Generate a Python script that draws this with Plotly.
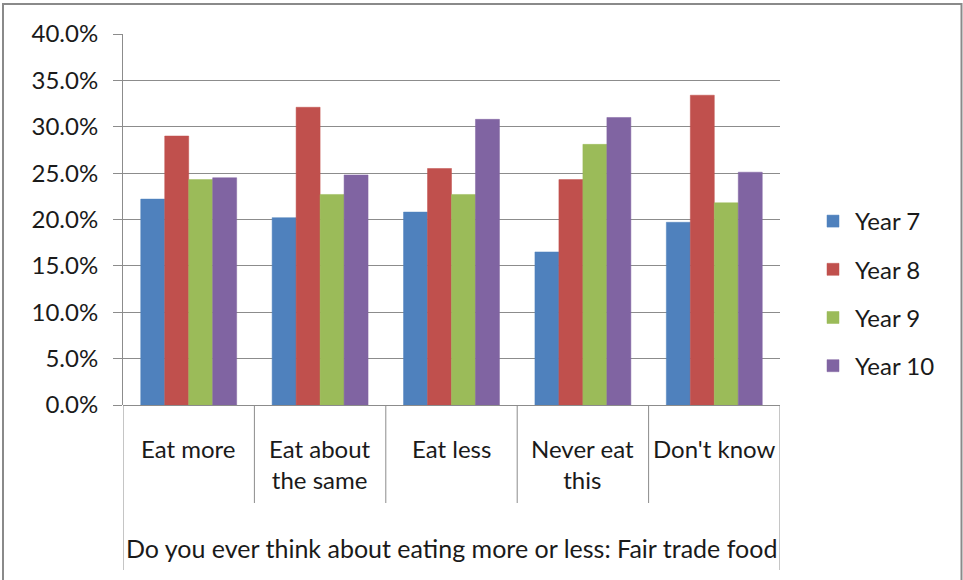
import plotly.graph_objects as go

categories = ["Eat more", "Eat about<br>the same", "Eat less", "Never eat<br>this", "Don't know"]
group_label = "Do you ever think about eating more or less: Fair trade food"
series_names = ["Year 7", "Year 8", "Year 9", "Year 10"]
year7 = [0.222, 0.202, 0.208, 0.165, 0.197]
year8 = [0.290, 0.321, 0.255, 0.243, 0.334]
year9 = [0.243, 0.227, 0.227, 0.281, 0.218]
year10 = [0.245, 0.248, 0.308, 0.310, 0.251]
series_values = [year7, year8, year9, year10]
colors = ["#4F81BD", "#C0504D", "#9BBB59", "#8064A2"]
y_ticks = [0, 0.05, 0.10, 0.15, 0.20, 0.25, 0.30, 0.35, 0.40]

W, H = 963, 580
ML, MR, MT, MB = 123, 183, 34, 175
PW, PH = W - ML - MR, H - MT - MB
FONT = "Lato"
FS = 24
TXT = "#1a1a1a"
GRID = "#8c8c8c"

fig = go.Figure()
xs = list(range(len(categories)))
for name, vals, col in zip(series_names, series_values, colors):
    fig.add_trace(go.Bar(
        x=xs, y=vals, name=name, legendgroup=name,
        marker=dict(color=col, line=dict(color=col, width=0.5)),
    ))

def px_to_py(py):
    return (H - MB - py) / PH

def px_to_px(px):
    return (px - ML) / PW

shapes = []
n = len(categories)
for i in range(n + 1):
    outer = i in (0, n)
    shapes.append(dict(
        type="line", xref="x", yref="paper",
        x0=i - 0.5, x1=i - 0.5, y0=0,
        y1=px_to_py(570) if outer else px_to_py(503),
        line=dict(color=GRID, width=1),
    ))
# outer chart border
shapes.append(dict(
    type="rect", xref="paper", yref="paper",
    x0=px_to_px(3), x1=px_to_px(961.5), y0=px_to_py(600), y1=px_to_py(4),
    line=dict(color="#8a8a8a", width=2), fillcolor="rgba(0,0,0,0)", layer="below",
))

annotations = []
for i, c in enumerate(categories):
    annotations.append(dict(
        x=i, xref="x", y=px_to_py(432), yref="paper", yanchor="top",
        text=c, showarrow=False, align="center",
        font=dict(family=FONT, size=FS, color=TXT),
    ))
annotations.append(dict(
    x=(n - 1) / 2, xref="x", y=px_to_py(531), yref="paper", yanchor="top",
    text=group_label, showarrow=False,
    font=dict(family=FONT, size=25, color=TXT),
))

fig.update_layout(
    width=W, height=H,
    margin=dict(l=ML, r=MR, t=MT, b=MB, autoexpand=False),
    paper_bgcolor="white", plot_bgcolor="white",
    barmode="group", bargap=0.27, bargroupgap=0,
    font=dict(family=FONT, size=FS, color=TXT),
    showlegend=True,
    legend=dict(
        x=px_to_px(811), y=px_to_py(199), xanchor="left", yanchor="top",
        traceorder="grouped", tracegroupgap=14, itemwidth=34,
        font=dict(family=FONT, size=FS, color=TXT),
        bgcolor="rgba(0,0,0,0)",
    ),
    shapes=shapes,
    annotations=annotations,
)
fig.update_xaxes(
    range=[-0.5, n - 0.5], showticklabels=False, showgrid=False,
    zeroline=False, showline=False, ticks="", fixedrange=True,
)
fig.update_yaxes(
    range=[0, 0.4], tickvals=y_ticks, tickformat=".1%",
    showgrid=True, gridcolor=GRID, gridwidth=1,
    zeroline=True, zerolinecolor=GRID, zerolinewidth=1,
    showline=True, linecolor=GRID, linewidth=1,
    ticks="outside", ticklen=9, tickcolor=GRID, ticklabelstandoff=10,
    tickfont=dict(family=FONT, size=FS, color=TXT),
)

fig.write_html(
    "out.html",
    config={"displayModeBar": False},
    post_script="document.body.style.margin='0';document.body.style.overflow='hidden';",
)
